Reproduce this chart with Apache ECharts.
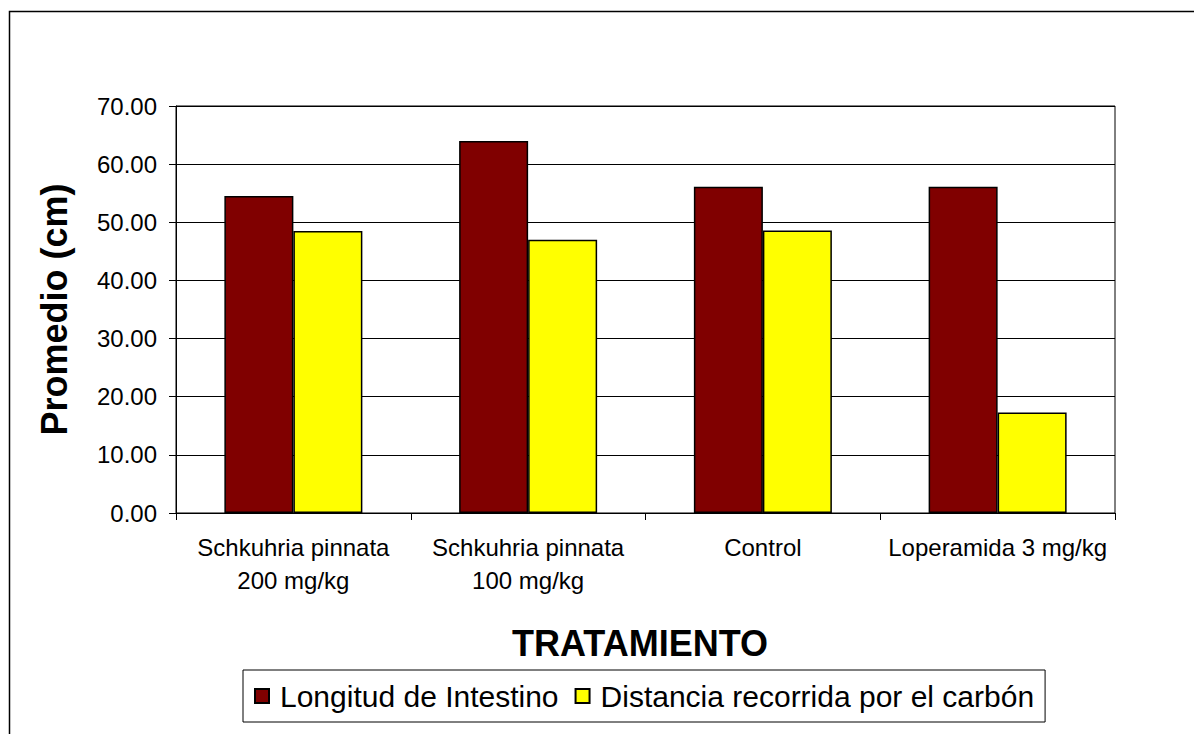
<!DOCTYPE html>
<html>
<head>
<meta charset="utf-8">
<script src="https://cdn.jsdelivr.net/npm/echarts@6/dist/echarts.min.js"></script>
<style>
html,body{margin:0;padding:0;background:#fff;}
#c{width:1194px;height:734px;}
</style>
</head>
<body>
<div id="c"></div>
<script>
const categories = ["Schkuhria pinnata\n200 mg/kg", "Schkuhria pinnata\n100 mg/kg", "Control", "Loperamida 3 mg/kg"];
const longitudIntestino = [54.5, 64.0, 56.1, 56.1];
const distanciaCarbon = [48.5, 47.0, 48.6, 17.3];
const seriesNames = ["Longitud de Intestino", "Distancia recorrida por el carbón"];
const yTicks = { min: 0, max: 70, interval: 10 };

const FONT = "'Liberation Sans', Arial, sans-serif";
const chart = echarts.init(document.getElementById('c'), null, { renderer: 'svg' });
chart.setOption({
  animation: false,
  backgroundColor: '#fff',
  grid: { left: 176, right: 79, top: 106, bottom: 221, show: true, borderColor: '#000', borderWidth: 1, backgroundColor: 'transparent' },
  graphic: [
    { type: 'rect', shape: { x: 9.5, y: 11.5, width: 1400, height: 1000 }, style: { fill: 'none', stroke: '#000', lineWidth: 1.5 }, silent: true, z: -10 },
    { type: 'text', x: 640, y: 643, style: { text: 'TRATAMIENTO', font: "bold 36px " + FONT, fill: '#000', align: 'center', verticalAlign: 'middle' } }
  ],
  legend: {
    left: 243, top: 670,
    padding: [11, 11, 11, 11],
    itemGap: 16,
    itemWidth: 14, itemHeight: 14,
    borderColor: '#000', borderWidth: 1,
    icon: 'rect',
    textStyle: { fontFamily: FONT, fontSize: 30, color: '#000', padding: [0, 0, 0, 6] },
    data: seriesNames
  },
  xAxis: {
    type: 'category',
    data: categories,
    axisLine: { lineStyle: { color: '#000', width: 1 } },
    axisTick: { show: true, length: 7, lineStyle: { color: '#000' } },
    axisLabel: { color: '#000', fontFamily: FONT, fontSize: 24, lineHeight: 33, margin: 18, interval: 0 },
    splitLine: { show: false }
  },
  yAxis: {
    type: 'value',
    min: yTicks.min, max: yTicks.max, interval: yTicks.interval,
    name: 'Promedio (cm)',
    nameLocation: 'middle',
    nameGap: 104,
    nameTextStyle: { fontFamily: FONT, fontSize: 36, fontWeight: 'bold', color: '#000' },
    axisLine: { show: true, lineStyle: { color: '#000', width: 1 } },
    axisTick: { show: true, length: 7, lineStyle: { color: '#000' } },
    axisLabel: { color: '#000', fontFamily: FONT, fontSize: 24, margin: 19, formatter: v => v.toFixed(2) },
    splitLine: { show: true, lineStyle: { color: '#000', width: 1 } }
  },
  series: [
    { name: seriesNames[0], type: 'bar', data: longitudIntestino, barWidth: 69, barGap: '0%',
      itemStyle: { color: '#800000', borderColor: '#000', borderWidth: 1.5 } },
    { name: seriesNames[1], type: 'bar', data: distanciaCarbon, barWidth: 69, barGap: '0%',
      itemStyle: { color: '#FFFF00', borderColor: '#000', borderWidth: 1.5 } }
  ]
});
</script>
</body>
</html>
